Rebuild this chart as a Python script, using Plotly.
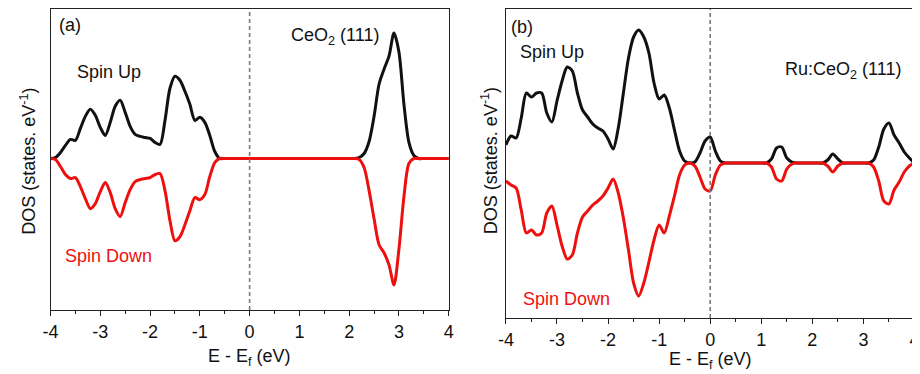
import plotly.graph_objects as go

# Energy grid (eV), 0.1 eV steps from -4 to 4
energy = [round(-4 + 0.1 * i, 1) for i in range(81)]

# Panel (a): CeO2 (111) DOS (arbitrary units)
a_spin_up = ([0, 1, 6, 13, 19, 18, 30, 42, 49, 43, 31, 23, 36, 52, 58, 46, 32, 24, 22, 21,
              20, 16, 14, 38, 70, 82, 78, 67, 54, 38, 41, 36, 23, 7, 0]
             + [0] * 27
             + [1, 5, 17, 42, 74, 89, 102, 125, 106, 54, 16, 3]
             + [0] * 7)
a_spin_down = ([0, 1, 8, 16, 20, 19, 28, 40, 50, 45, 33, 24, 34, 50, 58, 44, 31, 23, 21, 20,
                19, 16, 15, 32, 62, 82, 78, 66, 52, 39, 41, 36, 18, 4, 0]
               + [0] * 27
               + [1, 9, 32, 60, 86, 94, 106, 126, 90, 38, 5, 0]
               + [0] * 7)

# Panel (b): Ru:CeO2 (111) DOS (arbitrary units)
b_spin_up = ([18, 27, 25, 45, 70, 66, 70, 70, 50, 41, 62, 82, 96, 92, 70, 53, 46, 39, 35, 32,
              24, 14, 35, 70, 105, 126, 133, 126, 110, 80, 64, 68, 55, 33, 12, 2, 0, 1, 10, 22,
              26, 12, 2]
             + [0] * 9
             + [4, 15, 16, 5, 1]
             + [0] * 6
             + [3, 9, 4]
             + [0] * 6
             + [3, 16, 34, 40, 28, 20, 11, 5, 0])
b_spin_down = ([18, 22, 25, 47, 70, 67, 72, 70, 50, 43, 62, 83, 96, 92, 70, 54, 48, 42, 38, 33,
                25, 16, 30, 55, 87, 120, 133, 120, 99, 77, 62, 70, 53, 33, 12, 2, 0, 3, 14, 26,
                28, 12, 2]
               + [0] * 9
               + [4, 16, 18, 6, 1]
               + [0] * 6
               + [3, 9, 3]
               + [0] * 6
               + [4, 18, 38, 41, 27, 19, 9, 3, 0])

x_ticks = [-4, -3, -2, -1, 0, 1, 2, 3, 4]

# The page body adds an 8 px margin, so the figure is sized to fill the rest
OFF = 8
W, H = 920 - OFF, 374 - OFF
FONT = "Liberation Sans, Arial, sans-serif"
BLACK = "#111111"
RED = "#ee0f0f"
FRAME = "#222222"
FS = 18

def px(x):
    return (x - OFF) / W

def py(y):
    return 1 - (y - OFF) / H

fig = go.Figure()

for xa, ya, up, dn in [("x", "y", a_spin_up, a_spin_down), ("x2", "y2", b_spin_up, b_spin_down)]:
    fig.add_trace(go.Scatter(x=energy, y=up, mode="lines", xaxis=xa, yaxis=ya,
                             line=dict(color=BLACK, width=3, shape="spline", smoothing=0.8),
                             showlegend=False, hoverinfo="skip"))
    fig.add_trace(go.Scatter(x=energy, y=[-v for v in dn], mode="lines", xaxis=xa, yaxis=ya,
                             line=dict(color=RED, width=3, shape="spline", smoothing=0.8),
                             showlegend=False, hoverinfo="skip"))

xcommon = dict(tickvals=x_ticks, ticktext=[str(v) for v in x_ticks],
               ticks="outside", ticklen=5, tickwidth=1.3, tickcolor=FRAME,
               minor=dict(ticks="outside", ticklen=3, dtick=0.5, tick0=-4, tickwidth=1.3, tickcolor=FRAME),
               showline=True, linecolor=FRAME, linewidth=1.4, mirror=True,
               showgrid=False, zeroline=False, tickfont=dict(size=FS, family=FONT, color="#111"))
ycommon = dict(showticklabels=False, ticks="", showline=True, linecolor=FRAME, linewidth=1.4,
               showgrid=False, zeroline=False)

fig.update_layout(
    width=W, height=H, margin=dict(l=0, r=0, t=0, b=0),
    paper_bgcolor="white", plot_bgcolor="white",
    font=dict(family=FONT, size=FS, color="#111"),
    xaxis=dict(domain=[px(43), px(447)], anchor="y", range=[-4, 4], **xcommon),
    yaxis=dict(domain=[py(310), py(9)], anchor="x", range=[-151, 149], mirror=True, **ycommon),
    xaxis2=dict(domain=[px(505), 1.0], anchor="y2", range=[-4, 4.01], **xcommon),
    yaxis2=dict(domain=[py(318), py(9)], anchor="x2", range=[-155, 154], mirror=False, **ycommon),
)

for xr, yr in [("x", "y domain"), ("x2", "y2 domain")]:
    fig.add_shape(type="line", x0=0, x1=0, y0=0, y1=1, xref=xr, yref=yr,
                  line=dict(color="#7a7a7a", width=1.6, dash="4px,3px"))

def ann(text, x, y, color="#111", size=FS, angle=0):
    fig.add_annotation(text=text, x=px(x), y=py(y), xref="paper", yref="paper",
                       showarrow=False, xanchor="center", yanchor="middle",
                       textangle=angle, font=dict(size=size, color=color, family=FONT))

ann("(a)", 63, 25)
ann("CeO<sub>2</sub> (111)", 332, 37)
ann("Spin Up", 102, 72)
ann("Spin Down", 102, 256, color=RED)
ann("(b)", 521, 27)
ann("Spin Up", 552, 52)
ann("Ru:CeO<sub>2</sub> (111)", 847, 71)
ann("Spin Down", 566, 299, color=RED)
ann("DOS (states. eV<sup>-1</sup>)", 20, 161, angle=-90)
ann("DOS (states. eV<sup>-1</sup>)", 488, 161, angle=-90)
ann("E - E<sub>f</sub> (eV)", 245, 357)
ann("E - E<sub>f</sub> (eV)", 713, 360)

fig.write_html("out.html")
